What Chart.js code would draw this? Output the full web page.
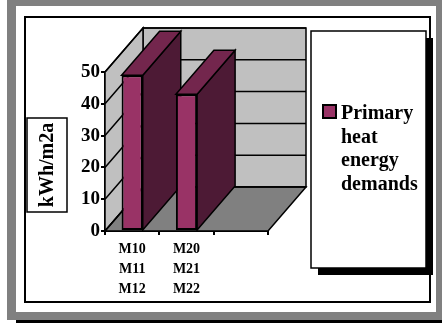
<!DOCTYPE html>
<html>
<head>
<meta charset="utf-8">
<title>Primary heat energy demands</title>
<script src="https://cdn.jsdelivr.net/npm/chart.js"></script>
<style>
  html, body { margin: 0; padding: 0; background: #fff; }
  canvas { display: block; }
</style>
</head>
<body>
<canvas id="demandChart" width="442" height="323"></canvas>
<script>
// Chart data
const categories = [['M10', 'M11', 'M12'], ['M20', 'M21', 'M22'], ''];
const demandValues = [49, 43, null];
const yTicks = [0, 10, 20, 30, 40, 50];
const seriesName = 'Primary heat energy demands';
const yTitle = 'kWh/m2a';

const FONT = "'Liberation Serif', 'Times New Roman', serif";
const DEPTH_X = 38;   // how far the back plane is shifted right
const DEPTH_Y = -44;  // ...and up
const COLORS = {
    front: '#993366',
    top: '#73264d',
    side: '#4d1a35',
    wall: '#c0c0c0',
    floor: '#808080'
};

function poly(ctx, pts, fill) {
    ctx.beginPath();
    ctx.moveTo(pts[0][0], pts[0][1]);
    for (let i = 1; i < pts.length; i++) ctx.lineTo(pts[i][0], pts[i][1]);
    ctx.closePath();
    ctx.fillStyle = fill;
    ctx.fill();
    ctx.stroke();
}

// Page mat, outer frame, axis title box and legend box
const pageFrame = {
    id: 'pageFrame',
    beforeDraw(chart) {
        const ctx = chart.ctx;
        const w = chart.width;
        ctx.save();
        ctx.fillStyle = '#ffffff';
        ctx.fillRect(0, 0, w, chart.height);

        ctx.fillStyle = '#000000';
        ctx.fillRect(16, 320, w - 16, 3);
        ctx.fillStyle = '#808080';
        ctx.fillRect(7, 0, w - 7, 320);
        ctx.fillStyle = '#ffffff';
        ctx.fillRect(16, 6, 420, 306);

        ctx.strokeStyle = '#000000';
        ctx.lineWidth = 2;
        ctx.strokeRect(25, 17, 405, 285);

        // y axis title in its own box
        ctx.lineWidth = 1.5;
        ctx.strokeRect(27, 118, 40, 94);
        ctx.translate(47, 165);
        ctx.rotate(-Math.PI / 2);
        ctx.fillStyle = '#000000';
        ctx.font = 'bold 20px ' + FONT;
        ctx.textAlign = 'center';
        ctx.textBaseline = 'middle';
        ctx.fillText(yTitle, 0, 1);
        ctx.restore();

        // legend with drop shadow
        ctx.save();
        ctx.fillStyle = '#000000';
        ctx.fillRect(318, 38, 115, 237);
        ctx.fillStyle = '#ffffff';
        ctx.fillRect(311, 31, 115, 237);
        ctx.strokeStyle = '#000000';
        ctx.lineWidth = 1.5;
        ctx.strokeRect(311, 31, 115, 237);

        const ds = chart.data.datasets[0];
        ctx.fillStyle = ds.backgroundColor;
        ctx.fillRect(323, 105, 13, 13);
        ctx.lineWidth = 2;
        ctx.strokeRect(323, 105, 13, 13);

        ctx.fillStyle = '#000000';
        ctx.font = 'bold 20px ' + FONT;
        ctx.textAlign = 'left';
        ctx.textBaseline = 'alphabetic';
        ds.label.split(' ').forEach((word, i) => {
            ctx.fillText(word, 341, 119 + i * 23.7);
        });
        ctx.restore();
    }
};

// Walls, floor, gridlines and the top/side faces of each bar
const box3d = {
    id: 'box3d',
    beforeDatasetsDraw(chart) {
        const ctx = chart.ctx;
        const xs = chart.scales.x;
        const ys = chart.scales.y;
        const left = xs.left, right = xs.right;
        const y0 = ys.getPixelForValue(0);
        const yMax = ys.getPixelForValue(ys.max);

        ctx.save();
        ctx.strokeStyle = '#000000';
        ctx.lineWidth = 1.5;
        ctx.lineJoin = 'miter';

        // back wall
        poly(ctx, [
            [left + DEPTH_X, yMax + DEPTH_Y], [right + DEPTH_X, yMax + DEPTH_Y],
            [right + DEPTH_X, y0 + DEPTH_Y], [left + DEPTH_X, y0 + DEPTH_Y]
        ], COLORS.wall);
        // side wall
        poly(ctx, [
            [left, yMax], [left + DEPTH_X, yMax + DEPTH_Y],
            [left + DEPTH_X, y0 + DEPTH_Y], [left, y0]
        ], COLORS.wall);
        // floor
        poly(ctx, [
            [left, y0], [left + DEPTH_X, y0 + DEPTH_Y],
            [right + DEPTH_X, y0 + DEPTH_Y], [right, y0]
        ], COLORS.floor);

        // gridlines on the back and side walls
        ctx.beginPath();
        yTicks.forEach(v => {
            const py = ys.getPixelForValue(v);
            ctx.moveTo(left, py);
            ctx.lineTo(left + DEPTH_X, py + DEPTH_Y);
            ctx.lineTo(right + DEPTH_X, py + DEPTH_Y);
        });
        ctx.stroke();

        // bar depth: side then top, left to right
        const meta = chart.getDatasetMeta(0);
        meta.data.forEach((bar, i) => {
            if (demandValues[i] == null) return;
            const x0 = bar.x - bar.width / 2;
            const x1 = bar.x + bar.width / 2;
            const top = bar.y, base = bar.base;
            poly(ctx, [
                [x1, top], [x1 + DEPTH_X, top + DEPTH_Y],
                [x1 + DEPTH_X, base + DEPTH_Y], [x1, base]
            ], COLORS.side);
            poly(ctx, [
                [x0, top], [x0 + DEPTH_X, top + DEPTH_Y],
                [x1 + DEPTH_X, top + DEPTH_Y], [x1, top]
            ], COLORS.top);
        });
        ctx.restore();
    }
};

new Chart(document.getElementById('demandChart'), {
    type: 'bar',
    data: {
        labels: categories,
        datasets: [{
            label: seriesName,
            data: demandValues,
            backgroundColor: COLORS.front,
            borderColor: '#000000',
            borderWidth: 2,
            borderSkipped: false,
            categoryPercentage: 1,
            barPercentage: 0.39
        }]
    },
    options: {
        responsive: false,
        animation: false,
        devicePixelRatio: 1,
        layout: { padding: { left: 65, right: 174, top: 72, bottom: 22 } },
        plugins: {
            legend: { display: false },
            tooltip: { enabled: false }
        },
        scales: {
            x: {
                afterFit(scale) { scale.height = 70; },
                border: { display: true, color: '#000000', width: 2 },
                grid: { drawOnChartArea: false, drawTicks: true, tickLength: 4, color: '#000000', lineWidth: 2, offset: true },
                ticks: {
                    color: '#000000',
                    padding: 4,
                    maxRotation: 0,
                    autoSkip: false,
                    font: { family: FONT, size: 14, weight: 'bold', lineHeight: '20px' }
                }
            },
            y: {
                min: 0,
                max: 50,
                afterFit(scale) { scale.width = 40; },
                border: { display: true, color: '#000000', width: 2 },
                grid: { drawOnChartArea: false, drawTicks: true, tickLength: 4, color: '#000000', lineWidth: 2 },
                ticks: {
                    stepSize: 10,
                    color: '#000000',
                    padding: 1,
                    font: { family: FONT, size: 19, weight: 'bold' }
                }
            }
        }
    },
    plugins: [pageFrame, box3d]
});
</script>
</body>
</html>
